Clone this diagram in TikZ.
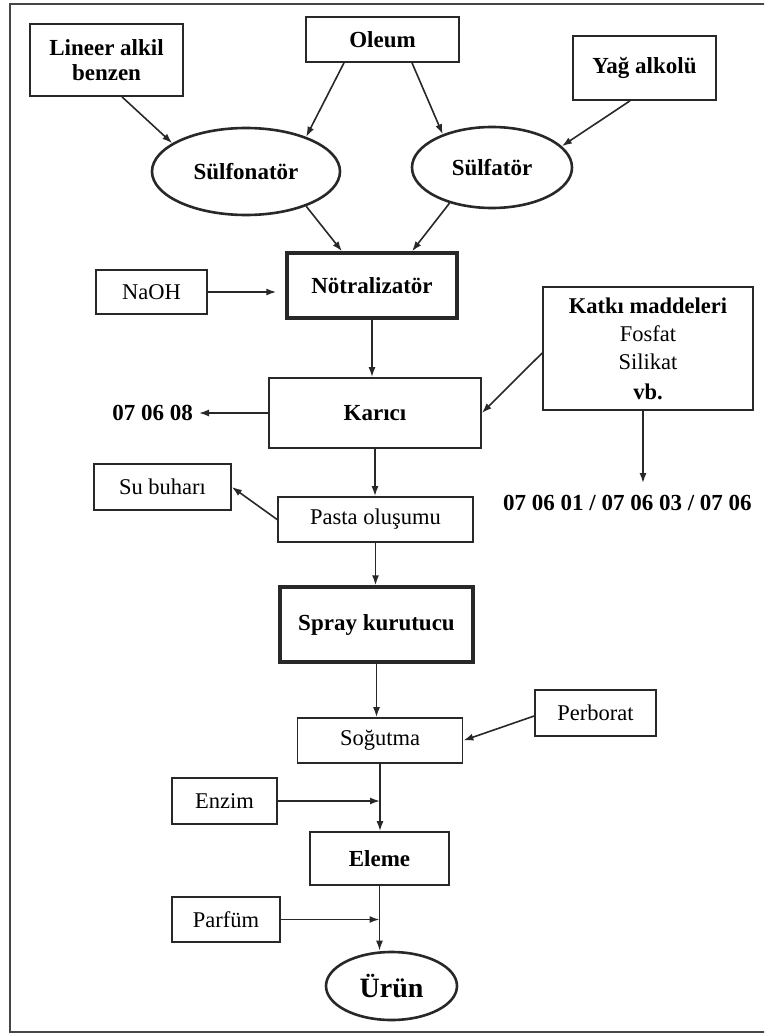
\documentclass[tikz,border=0pt]{standalone}
\usepackage{fontspec}
\setmainfont{Liberation Serif}
\usepackage{tikz}
\usetikzlibrary{arrows.meta,shapes.geometric,positioning,calc}
\definecolor{linegray}{RGB}{40,40,40}
\definecolor{framegray}{RGB}{70,70,70}
\tikzset{
  pbox/.style     ={draw=linegray, line width=1.7pt, align=center,
                    inner sep=2pt, font=\fontsize{22.5}{28}\selectfont},
  boldbox/.style  ={pbox, font=\fontsize{23}{27}\selectfont\bfseries},
  thickbox/.style ={boldbox, line width=3.4pt},
  oval/.style     ={ellipse, draw=linegray, line width=2.6pt, inner sep=0pt,
                    font=\fontsize{23}{27}\selectfont\bfseries},
  codetxt/.style  ={inner sep=0pt, font=\fontsize{23}{27}\selectfont\bfseries},
  arr/.style      ={-{Latex[length=10pt,width=7pt]}, line width=1.6pt, draw=linegray},
}

\begin{document}
\begin{tikzpicture}[x=1pt, y=-1pt]
  \useasboundingbox (0,0) rectangle (764,1035);
  \clip (0,0) rectangle (764,1035);
  \draw[line width=2.4pt, draw=framegray] (10,4) rectangle (800,1032);

  %% raw materials
  \node[boldbox, minimum width=153pt, minimum height=72pt] (lab) at (106.5,60)
        {Lineer alkil\\[-2pt]benzen};
  \node[boldbox, minimum width=153pt, minimum height=45pt] (oleum) at (382.5,39.5) {Oleum};
  \node[boldbox, minimum width=143pt, minimum height=64pt] (yag) at (644.5,68) {Yağ alkolü};
  \node[oval, minimum width=188pt, minimum height=87pt] (sulfonator) at (246,171.5) {Sülfonatör};
  \node[oval, minimum width=160pt, minimum height=81pt] (sulfator) at (492,167.5) {Sülfatör};

  %% main line
  \node[thickbox, minimum width=170pt, minimum height=65pt] (notr) at (372,285.5) {Nötralizatör};
  \node[pbox, minimum width=111pt, minimum height=44pt] (naoh) at (151.5,292) {NaOH};
  \node[pbox, minimum width=210pt, minimum height=123pt] (katki) at (648,348.5)
        {\textbf{Katkı maddeleri}\\Fosfat\\Silikat\\[2pt]\textbf{vb.}};
  \node[boldbox, minimum width=212pt, minimum height=70pt] (karici) at (375,413) {Karıcı};
  \node[codetxt, anchor=east] (kod1) at (193,413) {07 06 08};
  \node[codetxt, anchor=west] (kod2) at (503,503) {07 06 01 / 07 06 03 / 07 06};
  \node[pbox, minimum width=137pt, minimum height=46pt] (buhar) at (162.5,487) {Su buharı};
  \node[pbox, minimum width=195pt, minimum height=45pt] (pasta) at (375.5,519.5) {Pasta oluşumu};
  \node[thickbox, minimum width=193pt, minimum height=75pt] (spray) at (376.5,624.5) {Spray kurutucu};
  \node[pbox, minimum width=165pt, minimum height=45pt] (sogutma) at (380,740.5) {Soğutma};
  \node[pbox, minimum width=121pt, minimum height=46pt] (perborat) at (595.5,713) {Perborat};
  \node[pbox, minimum width=105pt, minimum height=46pt] (enzim) at (224.5,801) {Enzim};
  \node[boldbox, minimum width=139pt, minimum height=53pt] (eleme) at (379.5,858.5) {Eleme};
  \node[pbox, minimum width=108pt, minimum height=45pt] (parfum) at (226,919.5) {Parfüm};
  \node[oval, minimum width=131pt, minimum height=68pt,
        font=\fontsize{28}{32}\selectfont\bfseries] (urun) at (391.5,986) {Ürün};

  \draw[arr] ([xshift=15.5pt]lab.south)     -- (sulfonator.159);
  \draw[arr] ([xshift=-38.5pt]oleum.south)  -- (sulfonator.30);
  \draw[arr] ([xshift=29.5pt]oleum.south)   -- (sulfator.146);
  \draw[arr] ([xshift=-14.5pt]yag.south)    -- (sulfator.17);
  \draw[arr] (sulfonator.-30) -- ([xshift=-30pt]notr.north);
  \draw[arr] (sulfator.220)   -- ([xshift=40pt]notr.north);
  \draw[arr, shorten >=9pt] (naoh.east) -- (naoh.east -| notr.west);
  \draw[arr] (notr.south)   -- (notr.south |- karici.north);
  \draw[arr, shorten >=6pt] (karici.west) -- (kod1.east);
  \draw[arr] ([yshift=-4.5pt]katki.west) -- (karici.east);
  \draw[arr, shorten >=12pt] ([xshift=-5pt]katki.south) -- ([xshift=-5pt]katki.south |- kod2.north);
  \draw[arr] (karici.south) -- (karici.south |- pasta.north);
  \draw[arr] (pasta.west)   -- (buhar.east);
  \draw[arr] (pasta.south)  -- (pasta.south |- spray.north);
  \draw[arr] (spray.south)  -- (spray.south |- sogutma.north);
  \draw[arr] ([yshift=-3pt]perborat.west) -- (sogutma.east);
  \draw[arr] (sogutma.south) -- (sogutma.south |- eleme.north);
  \draw[arr] (enzim.east)   -- (enzim.east -| sogutma.south);
  \draw[arr] (eleme.south)  -- (eleme.south |- urun.north);
  \draw[arr] (parfum.east)  -- (parfum.east -| eleme.south);
\end{tikzpicture}
\end{document}
